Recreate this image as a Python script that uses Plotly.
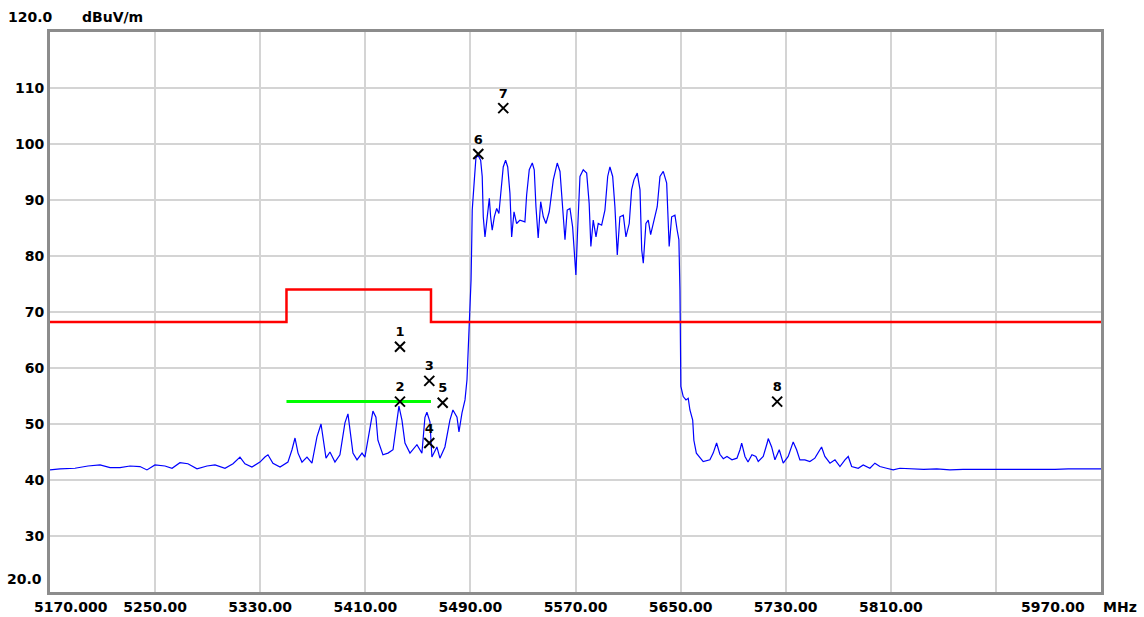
import plotly.graph_objects as go

# ---- measured spectrum (frequency MHz, level dBuV/m) ----
trace_freq = [
    5170.0, 5177.6, 5189.0, 5198.9, 5208.1, 5215.7, 5223.3, 5230.9, 5238.5, 5243.8,
    5249.9, 5257.5, 5262.9, 5268.9, 5275.0, 5281.9, 5289.5, 5295.6, 5303.2, 5309.3,
    5314.6, 5318.4, 5323.7, 5329.8, 5333.6, 5335.9, 5339.7, 5345.1, 5351.1, 5354.2,
    5356.5, 5358.8, 5361.8, 5365.6, 5369.4, 5373.2, 5376.3, 5377.8, 5380.1, 5383.1,
    5386.9, 5390.7, 5394.5, 5396.8, 5398.3, 5400.6, 5403.7, 5407.5, 5409.7, 5413.6,
    5415.8, 5418.1, 5419.6, 5423.4, 5427.3, 5431.1, 5434.1, 5435.6, 5437.9, 5440.2,
    5444.0, 5449.3, 5453.1, 5455.4, 5456.9, 5459.2, 5460.7, 5464.5, 5466.8, 5470.6,
    5474.4, 5476.7, 5479.8, 5481.3, 5483.6, 5485.9, 5487.4, 5488.9, 5490.5, 5491.0,
    5491.4, 5493.0, 5494.2, 5495.8, 5497.8, 5499.0, 5499.8, 5501.1, 5502.8, 5504.4,
    5505.4, 5506.6, 5508.2, 5510.0, 5511.7, 5513.0, 5515.0, 5516.8, 5518.4, 5520.1,
    5521.4, 5523.2, 5525.2, 5527.7, 5531.5, 5532.8, 5534.8, 5537.1, 5538.6, 5539.9,
    5541.6, 5543.5, 5545.5, 5547.5, 5550.0, 5553.1, 5556.1, 5558.2, 5560.2, 5562.0,
    5563.7, 5565.8, 5567.8, 5569.6, 5570.3, 5571.6, 5573.4, 5575.9, 5578.5, 5580.4,
    5581.7, 5583.5, 5585.6, 5587.3, 5589.9, 5592.4, 5594.5, 5596.2, 5598.3, 5600.0,
    5601.8, 5603.8, 5606.4, 5608.4, 5610.9, 5612.7, 5614.5, 5617.0, 5619.1, 5620.4,
    5621.6, 5623.6, 5625.4, 5627.2, 5629.2, 5632.2, 5634.3, 5636.8, 5639.4, 5641.3,
    5643.2, 5645.7, 5647.4, 5648.7, 5649.5, 5650.2, 5652.0, 5654.1, 5655.8, 5657.1,
    5659.2, 5660.1, 5662.0, 5664.7, 5667.2, 5672.3, 5674.8, 5677.4, 5679.9, 5682.5,
    5685.3, 5689.1, 5692.9, 5695.2, 5696.5, 5699.0, 5701.3, 5704.3, 5707.3, 5709.1,
    5712.9, 5715.9, 5716.7, 5719.3, 5721.8, 5725.1, 5728.1, 5731.9, 5735.7, 5738.3,
    5740.8, 5744.6, 5748.4, 5752.2, 5757.3, 5759.8, 5763.7, 5767.5, 5771.3, 5775.1,
    5777.6, 5780.2, 5785.2, 5789.0, 5794.1, 5797.9, 5801.7, 5806.8, 5811.8, 5816.9,
    5825.0, 5835.0, 5845.0, 5855.0, 5865.0, 5875.0, 5885.0, 5895.0, 5905.0, 5915.0,
    5925.0, 5935.0, 5945.0, 5955.0, 5965.0, 5970.0,
]
trace_level = [
    41.8, 42.0, 42.1, 42.5, 42.7, 42.2, 42.2, 42.5, 42.4, 41.8,
    42.7, 42.5, 42.1, 43.1, 42.9, 42.0, 42.5, 42.7, 42.1, 42.9,
    44.1, 42.9, 42.3, 43.2, 44.1, 44.5, 43.0, 42.3, 43.2, 45.4,
    47.5, 44.8, 43.2, 44.1, 43.0, 47.7, 50.0, 47.7, 43.9, 45.0,
    43.2, 44.5, 50.2, 51.8, 48.9, 44.8, 43.6, 44.8, 44.1, 49.5,
    52.3, 51.2, 47.1, 44.5, 44.8, 45.4, 50.7, 53.2, 50.7, 46.6,
    44.8, 46.3, 44.8, 51.2, 52.1, 50.4, 44.1, 45.9, 43.9, 45.9,
    50.7, 52.5, 51.2, 48.6, 52.0, 54.3, 57.9, 66.8, 75.7, 82.3,
    88.2, 93.6, 97.5, 98.0, 97.1, 94.2, 87.0, 83.4, 87.6, 90.3,
    87.0, 84.6, 87.0, 88.5, 87.6, 91.2, 95.9, 97.1, 95.9, 91.2,
    83.4, 87.9, 85.8, 86.4, 86.1, 90.9, 95.4, 96.6, 95.4, 88.8,
    83.2, 89.7, 87.0, 85.8, 87.9, 93.6, 96.6, 95.1, 88.8, 82.9,
    88.2, 88.5, 85.2, 79.9, 76.6, 84.6, 94.2, 95.4, 94.8, 89.4,
    81.7, 86.4, 83.4, 85.8, 85.5, 88.2, 94.2, 95.9, 94.2, 88.8,
    80.2, 87.0, 87.3, 83.4, 85.8, 91.8, 93.6, 94.8, 91.8, 81.1,
    78.7, 85.8, 86.4, 83.8, 85.8, 88.8, 94.2, 95.1, 93.0, 81.7,
    87.0, 87.3, 84.6, 82.9, 73.9, 56.7, 54.9, 54.3, 54.6, 52.5,
    50.7, 47.1, 44.8, 44.0, 43.3, 43.6, 44.8, 46.6, 44.6, 43.8,
    44.2, 43.6, 43.9, 45.4, 46.6, 44.2, 43.2, 44.5, 44.2, 43.3,
    44.2, 46.6, 47.4, 45.9, 43.6, 45.4, 43.0, 44.2, 46.8, 45.4,
    43.6, 43.6, 43.3, 43.9, 45.9, 44.2, 43.0, 43.6, 42.4, 43.6,
    44.2, 42.4, 42.1, 42.7, 42.1, 43.0, 42.4, 42.1, 41.8, 42.1,
    42.0, 41.9, 42.0, 41.8, 41.9, 41.9, 41.8, 41.9, 41.9, 41.8,
    41.9, 41.9, 42.0, 42.0, 42.1, 42.0,
]

# ---- limit lines ----
peak_limit_freq = [5170, 5350, 5350, 5460, 5460, 5970]
peak_limit_level = [68.2, 68.2, 74.0, 74.0, 68.2, 68.2]
avg_limit_freq = [5350, 5460]
avg_limit_level = [54.0, 54.0]

# ---- markers ----
marker_label = ["1", "2", "3", "4", "5", "6", "7", "8"]
marker_freq = [5436.4, 5436.4, 5458.7, 5458.7, 5468.9, 5496.0, 5515.0, 5723.5]
marker_level = [63.8, 54.0, 57.7, 46.6, 53.8, 98.2, 106.4, 54.0]

# ---- axes ----
x_min, x_max = 5170, 5970
y_min, y_max = 20, 120
x_tick_vals = [5250, 5330, 5410, 5490, 5570, 5650, 5730, 5810, 5890]
x_tick_text = ["5250.00", "5330.00", "5410.00", "5490.00", "5570.00",
               "5650.00", "5730.00", "5810.00", ""]
y_tick_vals = [30, 40, 50, 60, 70, 80, 90, 100, 110]
y_tick_text = ["30", "40", "50", "60", "70", "80", "90", "100", "110"]

FONT = "DejaVu Sans"
tick_font = dict(family=FONT, size=14, color="black", weight="bold")

fig = go.Figure()
fig.add_trace(go.Scatter(x=trace_freq, y=trace_level, mode="lines",
                         line=dict(color="#0000ff", width=1.2), hoverinfo="skip"))
fig.add_trace(go.Scatter(x=peak_limit_freq, y=peak_limit_level, mode="lines",
                         line=dict(color="#ff0000", width=2.5), hoverinfo="skip"))
fig.add_trace(go.Scatter(x=avg_limit_freq, y=avg_limit_level, mode="lines",
                         line=dict(color="#00ff00", width=3), hoverinfo="skip"))
fig.add_trace(go.Scatter(x=marker_freq, y=marker_level, mode="markers+text",
                         text=marker_label, textposition="top center",
                         textfont=dict(family=FONT, size=13, color="black", weight="bold"),
                         marker=dict(symbol="x-thin", size=10, color="black",
                                     line=dict(color="black", width=2)),
                         hoverinfo="skip"))

axis_common = dict(showgrid=True, gridcolor="#d4d4d4", gridwidth=2,
                   showline=True, linecolor="#8c8c8c", linewidth=3, mirror=True,
                   zeroline=False, ticks="", tickfont=tick_font, fixedrange=True,
                   automargin=False)

fig.update_layout(
    width=1144, height=617,
    autosize=False,
    margin=dict(l=50, r=43, t=32, b=25, pad=0, autoexpand=False),
    paper_bgcolor="white", plot_bgcolor="white",
    showlegend=False,
    xaxis=dict(range=[x_min, x_max], tickvals=x_tick_vals, ticktext=x_tick_text,
               **axis_common),
    yaxis=dict(range=[y_min, y_max], tickvals=y_tick_vals, ticktext=y_tick_text,
               **axis_common),
    annotations=[
        dict(text="120.0", xref="paper", yref="paper", x=0, y=1, xanchor="right",
             yanchor="middle", xshift=5, yshift=15, showarrow=False, font=tick_font),
        dict(text="dBuV/m", xref="paper", yref="paper", x=0, y=1, xanchor="left",
             yanchor="middle", xshift=30, yshift=15, showarrow=False, font=tick_font),
        dict(text="20.0", xref="paper", yref="paper", x=0, y=0, xanchor="right",
             yanchor="middle", xshift=-6, yshift=13, showarrow=False, font=tick_font),
        dict(text="5170.000", xref="paper", yref="paper", x=0, y=0, xanchor="center",
             yanchor="top", xshift=21, yshift=-5, showarrow=False, font=tick_font),
        dict(text="5970.00", xref="paper", yref="paper", x=1, y=0, xanchor="center",
             yanchor="top", xshift=-48, yshift=-5, showarrow=False, font=tick_font),
        dict(text="MHz", xref="paper", yref="paper", x=1, y=0, xanchor="left",
             yanchor="top", xshift=0, yshift=-5, showarrow=False, font=tick_font),
    ],
)

fig.write_html("out.html", config={"displayModeBar": False},
               post_script="document.body.style.margin='0';document.body.style.overflow='hidden';")
